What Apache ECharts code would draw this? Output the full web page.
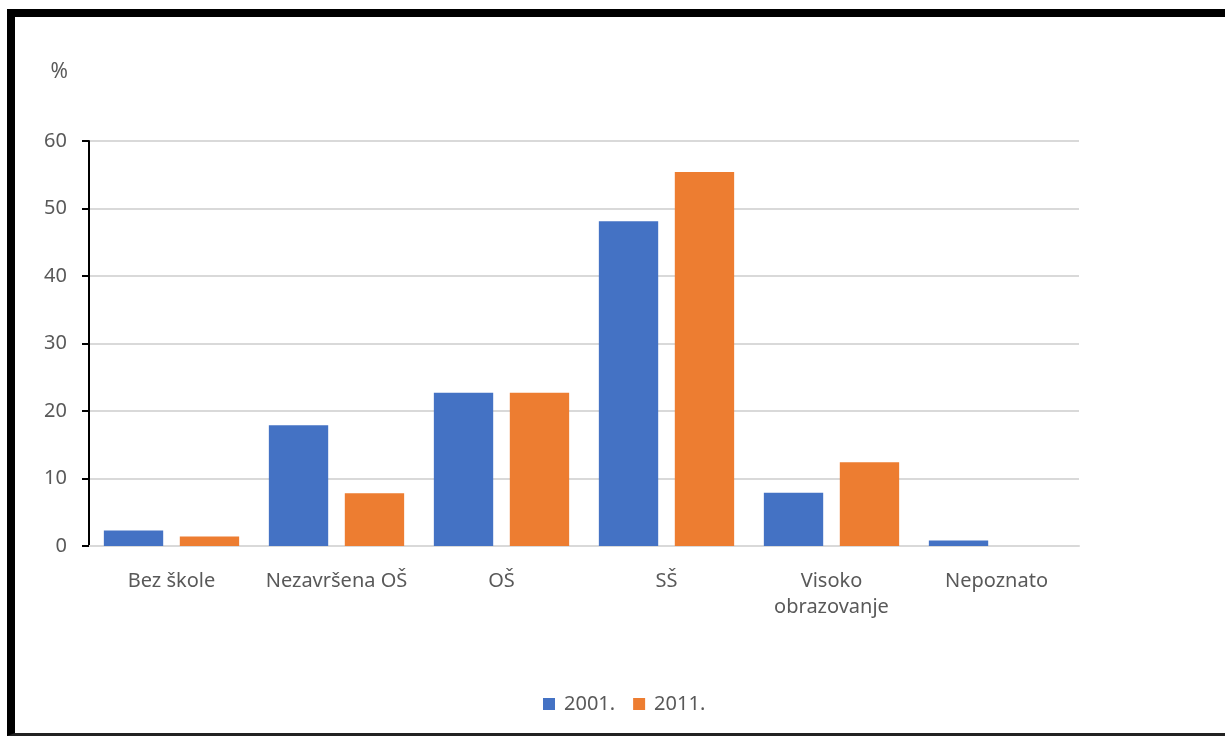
<!DOCTYPE html>
<html>
<head>
<meta charset="utf-8">
<script src="https://cdn.jsdelivr.net/npm/echarts@6/dist/echarts.min.js"></script>
<style>
html,body{margin:0;padding:0;background:#fff;}
#chart{width:1225px;height:739px;position:absolute;left:0;top:0;}
#frame{position:absolute;left:7px;top:9px;width:1218px;height:727px;border-top:8px solid #000;border-left:8px solid #000;border-bottom:3px solid #222;box-sizing:border-box;pointer-events:none;}
</style>
</head>
<body>
<div id="chart"></div>
<div id="frame"></div>
<script>
const categories = ['Bez škole', 'Nezavršena OŠ', 'OŠ', 'SŠ', 'Visoko\nobrazovanje', 'Nepoznato'];
const seriesNames = ['2001.', '2011.'];
const values2001 = [2.3, 17.9, 22.7, 48.1, 7.9, 0.8];
const values2011 = [1.4, 7.8, 22.7, 55.4, 12.4, 0];
const yTicks = [0, 10, 20, 30, 40, 50, 60];

const textColor = '#595959';
const fontFamily = '"Noto Sans", "Open Sans", sans-serif';
const chart = echarts.init(document.getElementById('chart'));
chart.setOption({
  animation: false,
  textStyle: { fontFamily: fontFamily },
  grid: { left: 89, right: 146, top: 141, bottom: 193, containLabel: false },
  legend: {
    data: seriesNames,
    top: 689,
    left: 538,
    itemWidth: 12,
    itemHeight: 12,
    itemGap: 18,
    icon: 'rect',
    textStyle: { color: textColor, fontSize: 20, fontFamily: fontFamily, padding: [0, 0, 0, 4] }
  },
  xAxis: {
    type: 'category',
    data: categories,
    axisLine: { show: true, lineStyle: { color: '#D9D9D9', width: 2 } },
    axisTick: { show: false },
    axisLabel: { color: textColor, fontSize: 20, margin: 22, lineHeight: 26, fontFamily: fontFamily, interval: 0 }
  },
  yAxis: {
    type: 'value',
    min: yTicks[0],
    max: yTicks[yTicks.length - 1],
    interval: 10,
    name: '%',
    nameLocation: 'end',
    nameGap: 58,
    nameTextStyle: { color: textColor, fontSize: 21, align: 'right', padding: [0, 21, 0, 0], fontFamily: fontFamily },
    axisLine: { show: true, lineStyle: { color: '#000', width: 2 } },
    axisTick: { show: true, inside: false, length: 7, lineStyle: { color: '#000', width: 2 } },
    axisLabel: { color: textColor, fontSize: 20, margin: 22, fontFamily: fontFamily },
    splitLine: { show: true, lineStyle: { color: '#D9D9D9', width: 2 } }
  },
  series: [
    {
      name: seriesNames[0], type: 'bar', data: values2001,
      itemStyle: { color: '#4472C4' },
      barGap: '28%', barCategoryGap: '18%'
    },
    {
      name: seriesNames[1], type: 'bar', data: values2011,
      itemStyle: { color: '#ED7D31' },
      barGap: '28%', barCategoryGap: '18%'
    }
  ]
});
</script>
</body>
</html>
